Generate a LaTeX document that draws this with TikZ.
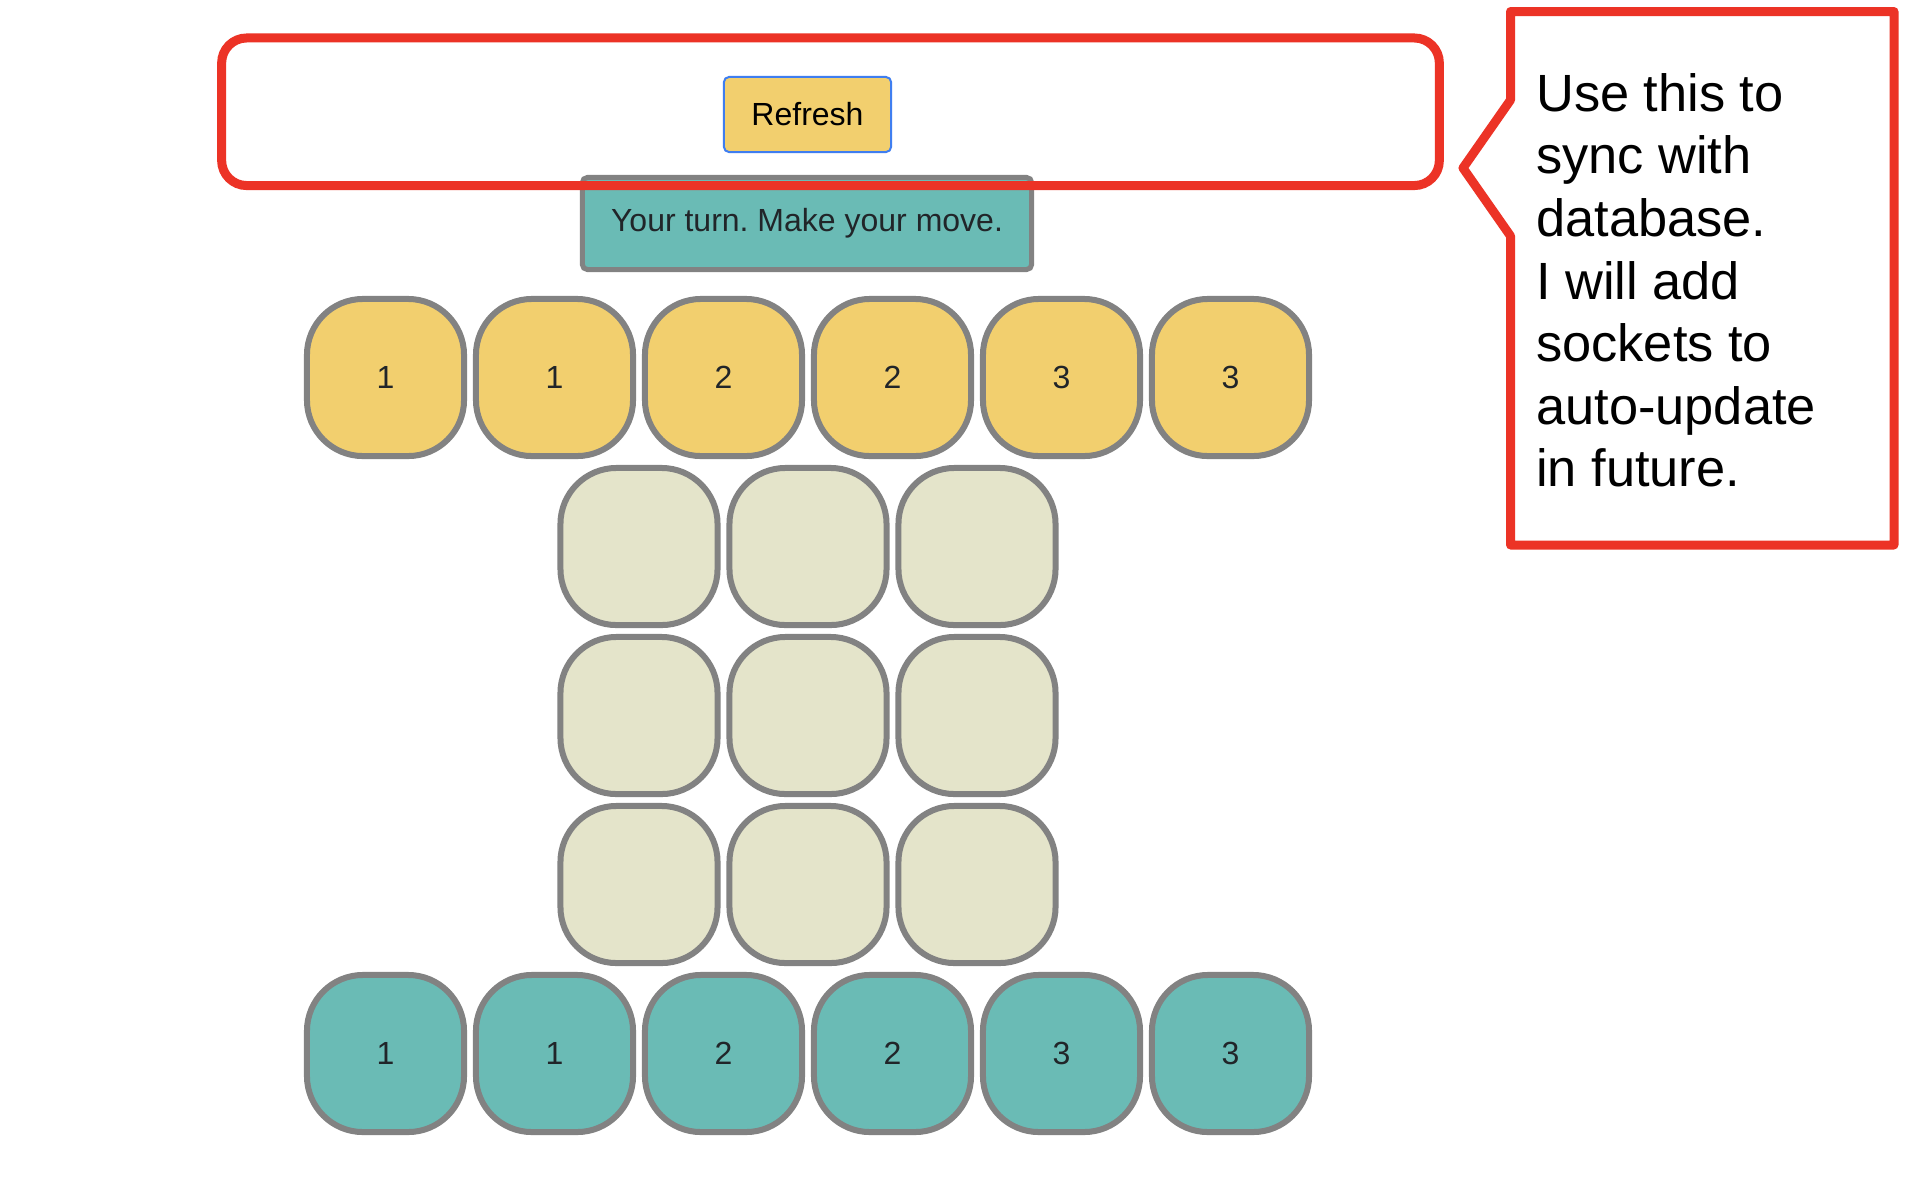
\documentclass[tikz,border=0pt]{standalone}
\usepackage{fontspec}
\setmainfont{Liberation Sans}
\usepackage{xcolor}
\usepackage{tikz}
\usetikzlibrary{positioning}

\definecolor{tileyellow}{HTML}{F2CF6E}
\definecolor{tilebeige}{HTML}{E4E4CA}
\definecolor{tileteal}{HTML}{6ABBB5}
\definecolor{tilegray}{HTML}{828282}
\definecolor{textdark}{HTML}{212529}
\definecolor{callred}{HTML}{EC3326}
\definecolor{btnblue}{HTML}{3F7EF0}
\newcommand\uifont{\fontsize{9.1}{11}\selectfont}
\newcommand\notefont{\fontsize{14.9}{17.8}\selectfont}
\frenchspacing

\begin{document}
\begin{tikzpicture}[x=0.01cm, y=-0.01cm,
    tile/.style={rectangle, draw=tilegray, line width=0.06cm, rounded corners=0.56cm, minimum size=1.57cm, font=\uifont, text=textdark}]
      \fill[white] (0,0) rectangle (1908,1196);
      \useasboundingbox (0,0) rectangle (1908,1196);
      % top bar
      \node (refresh) [rectangle, draw=btnblue, line width=0.02cm, fill=tileyellow, rounded corners=0.05cm, minimum width=1.67cm, minimum height=0.75cm, font=\uifont, text=black] at (807.5,114.5) {Refresh};
      \node (status) [rectangle, draw=tilegray, line width=0.05cm, fill=tileteal, rounded corners=0.05cm, minimum width=4.49cm, minimum height=0.92cm, font=\uifont, text=textdark] at (807,223.5) {Your turn. Make your move.};
      \node (frame) [rectangle, draw=callred, line width=0.09cm, rounded corners=0.25cm, minimum width=12.17cm, minimum height=1.475cm] at (830.5,111.75) {};
      % board
      \foreach \n [count=\i from 0] in {1,1,2,2,3,3} {
        \node (top\i) [tile, fill=tileyellow] at (385.5+169*\i,377.5) {\n};
        \node (bot\i) [tile, fill=tileteal] at (385.5+169*\i,1053.5) {\n};
      }
      \foreach \r in {0,1,2}
        \foreach \c in {0,1,2}
          \node (cell\r\c) [tile, fill=tilebeige] at (639+169*\c,546.5+169*\r) {};
      % callout
      \draw[callred, line width=0.09cm, line join=round] (1510.5,100) -- (1510.5,11.5) -- (1894,11.5) -- (1894,545) -- (1510.5,545) -- (1510.5,236) -- (1463,168) -- cycle;
      \node (note) [anchor=north west, inner sep=0pt, align=left, font=\notefont] at (1535.5,72.7) {Use this to\\sync with\\database.\\I will add\\sockets to\\auto-update\\in future.};
  \end{tikzpicture}
\end{document}
